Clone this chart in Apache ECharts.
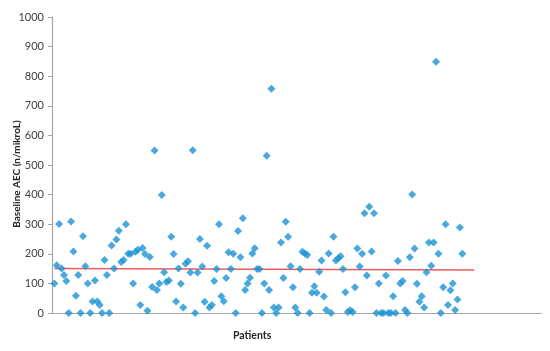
<!DOCTYPE html>
<html>
<head>
<meta charset="utf-8">
<script src="https://cdn.jsdelivr.net/npm/echarts@6/dist/echarts.min.js"></script>
<style>html,body{margin:0;padding:0;background:#fff;}#c{width:550px;height:351px;}</style>
</head>
<body>
<div id="c"></div>
<script>
// Baseline AEC per patient (patients numbered 1..N in order)
var aecValues = [
100,161,301,150,128,108,0,309,208,58,
128,0,259,158,100,0,39,110,39,27,
0,179,128,0,228,150,248,278,172,179,
300,200,200,100,207,214,27,220,199,8,
189,88,549,78,100,399,138,105,110,258,
199,39,150,99,19,166,175,137,550,0,
137,250,157,38,227,19,27,108,149,300,
57,40,118,205,149,200,0,277,188,320,
78,100,119,201,219,149,149,0,100,531,
78,758,19,0,19,238,118,308,258,158,
87,19,0,149,207,201,196,0,68,90,
68,139,177,56,10,201,0,258,177,185,
192,149,70,3,9,3,87,218,157,200,
337,127,359,208,337,0,100,0,0,127,
0,0,57,0,176,100,108,10,0,188,
400,218,99,38,57,19,138,238,160,238,
849,200,0,87,300,27,77,100,10,46,
289,200
];
// Red reference line (start / end)
var refLineX = [1, 177];
var refLineY = [150, 145];
var yTicks = [0,100,200,300,400,500,600,700,800,900,1000];

var scatterData = aecValues.map(function(v,i){ return [i+1, v]; });
var lineData = refLineX.map(function(x,i){ return [x, refLineY[i]]; });

var chart = echarts.init(document.getElementById('c'));
chart.setOption({
  animation: false,
  backgroundColor: '#ffffff',
  grid: { left: 52, right: 9, top: 17, bottom: 38 },
  xAxis: {
    type: 'value', min: 0, max: 205,
    axisLine: { show: true, lineStyle: { color: '#A6A6A6', width: 1.2 } },
    axisTick: { show: false }, axisLabel: { show: false }, splitLine: { show: false }
  },
  yAxis: {
    type: 'value', min: yTicks[0], max: yTicks[yTicks.length-1], interval: 100,
    axisLine: { show: true, lineStyle: { color: '#A6A6A6', width: 1.2 } },
    axisTick: { show: true, length: 4, lineStyle: { color: '#A6A6A6' } },
    axisLabel: { fontFamily: 'Lato', fontSize: 11, color: '#404040', margin: 8,
      formatter: function(v){ return String(v); } },
    splitLine: { show: false }
  },
  graphic: [{
    type: 'text', left: 233, top: 330,
    style: { text: 'Patients', font: 'bold 10.5px Lato', fill: '#262626' }
  }, {
    type: 'text', x: 17, y: 174, rotation: Math.PI / 2,
    style: { text: 'Baseline AEC (n/mikroL)', font: 'bold 10px Lato', fill: '#262626',
      align: 'center', verticalAlign: 'middle' }
  }],
  series: [{
    type: 'scatter', data: scatterData, symbol: 'diamond', symbolSize: 8,
    itemStyle: { color: '#1B93D3' }, z: 3
  }, {
    type: 'line', data: lineData, symbol: 'none',
    lineStyle: { color: '#F05A5A', width: 1.5 }, z: 2
  }]
});
</script>
</body>
</html>
